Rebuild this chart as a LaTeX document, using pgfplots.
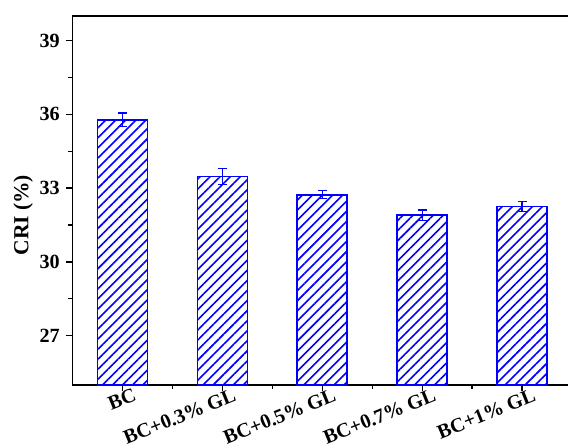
\documentclass[border=0pt]{standalone}
\usepackage{fontspec}
\setmainfont{Liberation Serif}
\usepackage{pgfplots}
\pgfplotsset{compat=1.18}
\usetikzlibrary{patterns.meta}

\begin{document}
\begin{tikzpicture}
\begin{axis}[
  scale only axis,
  width=372pt, height=274.5pt,
  xmin=-0.5, xmax=4.5,
  ymin=25, ymax=40,
  ytick={27,30,33,36,39},
  minor y tick num=1,
  xtick={0,1,2,3,4},
  xticklabels={BC, BC+0.3\% GL, BC+0.5\% GL, BC+0.7\% GL, BC+1\% GL},
  minor x tick num=1,
  tick align=outside,
  tick pos=left,
  major tick length=5pt,
  minor tick length=3pt,
  every tick/.style={black, line width=1pt},
  axis line style={line width=1.2pt},
  /pgf/number format/assume math mode=true,
  tick label style={font=\fontsize{15}{17}\selectfont\bfseries},
  yticklabel style={xshift=-1pt},
  xticklabel style={rotate=22, anchor=north east, xshift=9pt, yshift=1pt, inner sep=1pt},
  ylabel={CRI (\%)},
  ylabel style={font=\fontsize{16}{18}\selectfont\bfseries, yshift=-2pt, xshift=-11pt},
  ybar, bar width=0.5,
  clip=false,
]
\addplot+[
  draw=blue, line width=1.2pt,
  pattern={Lines[angle=45, distance=5.3pt, line width=1.2pt]},
  pattern color=blue,
  error bars/.cd, y dir=both, y explicit,
  error bar style={blue, line width=1pt},
  error mark options={rotate=90, mark size=3.3pt, line width=1pt, blue},
] coordinates {
  (0,35.78) +- (0,0.27)
  (1,33.47) +- (0,0.33)
  (2,32.73) +- (0,0.16)
  (3,31.90) +- (0,0.21)
  (4,32.25) +- (0,0.20)
};
\end{axis}
\pgfresetboundingbox
\path[use as bounding box]
  ([xshift=-54pt, yshift=-46.5pt]current axis.south west)
  rectangle ([xshift=-3pt, yshift=12pt]current axis.north east);
\end{tikzpicture}
\end{document}
